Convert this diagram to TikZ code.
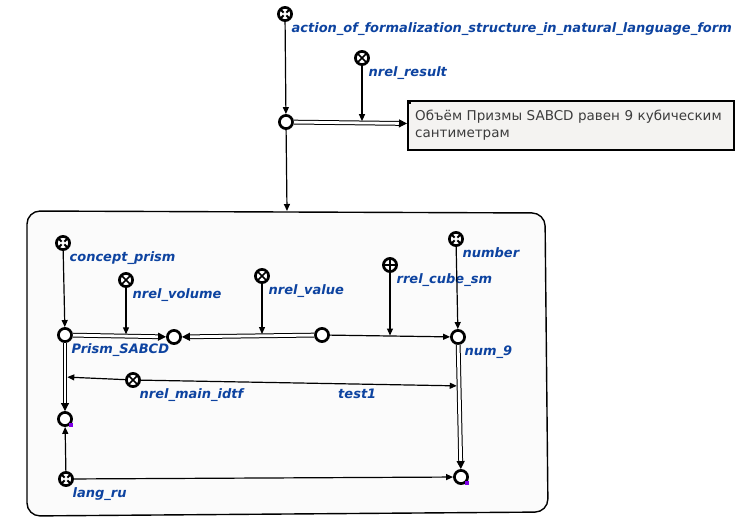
\documentclass[tikz,border=0pt]{standalone}
\usepackage{fontspec}
\setmainfont{DejaVu Sans}
\usetikzlibrary{arrows.meta}

\definecolor{lblblue}{RGB}{13,67,160}
\definecolor{boxgray}{RGB}{244,243,241}
\definecolor{txtgray}{RGB}{60,60,60}
\definecolor{contourgray}{RGB}{251,251,251}
\definecolor{linkviolet}{RGB}{125,0,230}

\tikzset{
  scnode/.style={circle, draw, line width=2.7pt, fill=white, minimum size=13.2pt, inner sep=0pt},
  norole/.style={scnode, path picture={
      \draw[line width=1.6pt] (path picture bounding box.north west) -- (path picture bounding box.south east)
        (path picture bounding box.north east) -- (path picture bounding box.south west);}},
  rolenode/.style={scnode, path picture={
      \draw[line width=1.6pt] (path picture bounding box.north) -- (path picture bounding box.south)
        (path picture bounding box.east) -- (path picture bounding box.west);}},
  classnode/.style={scnode, path picture={
      \draw[line width=1.8pt] (path picture bounding box.north west) -- (path picture bounding box.south east)
        (path picture bounding box.north east) -- (path picture bounding box.south west);
      \fill (path picture bounding box.center) circle (2pt);}},
  lbl/.style={text=lblblue, inner sep=0pt, font=\fontsize{13}{15}\selectfont\bfseries\itshape},
  sclabel/.style={lbl, xshift=0.8pt, yshift=-2.6pt},
  accarc/.style={line width=1.2pt, -{Triangle[length=7pt, width=6pt]}},
  commonarc/.style={double=white, double distance=2.8pt, line width=1pt, -{Triangle[length=8pt, width=8pt]}},
  textbox/.style={draw, line width=2.4pt, fill=boxgray, text=txtgray, text width=312pt, align=left,
    inner xsep=7pt, minimum height=48.6pt, font=\fontsize{13.5}{17}\selectfont},
  contour/.style={draw, line width=1.4pt, fill=contourgray, rounded corners=13pt},
  linkmark/.style={fill=linkviolet}
}

\begin{document}
\begin{tikzpicture}[x=1pt, y=-1pt]
\useasboundingbox (0,0) rectangle (742,532);

% contour of the structure
\draw[contour] (27,211) -- (545,213) -- (548,512) -- (27,516) -- cycle;
\coordinate (ctop) at (287,211);

% action and its result
\node[classnode, label={[sclabel]south east:action\_of\_formalization\_structure\_in\_natural\_language\_form}] (action) at (285,14) {};
\node[norole, label={[sclabel]south east:nrel\_result}] (nresult) at (362,58) {};
\node[scnode] (pair) at (286,122) {};
\node[textbox, anchor=north west] (result) at (407,100) {Объём Призмы SABCD равен 9 кубическим\\сантиметрам};
\fill (result.north west) rectangle +(4,4);

\draw[accarc] (action) -- (pair);
\draw[commonarc] (pair) -- coordinate[pos=0.62] (mres) (result);
\draw[accarc, shorten >=1.8pt] (nresult) -- (nresult |- mres);
\draw[accarc] (pair) -- (ctop);

% nodes inside the contour
\node[classnode, label={[sclabel]south east:concept\_prism}] (cprism) at (63,243) {};
\node[scnode, label={[sclabel]south east:Prism\_SABCD}] (prism) at (65,335) {};
\node[norole, label={[sclabel]south east:nrel\_volume}] (nvolume) at (126,280) {};
\node[scnode] (volume) at (174,337) {};
\node[norole, label={[sclabel]south east:nrel\_value}] (nvalue) at (262,276) {};
\node[scnode] (value) at (322,335) {};
\node[rolenode, label={[sclabel]south east:rrel\_cube\_sm}] (rcube) at (390,265) {};
\node[classnode, label={[sclabel]south east:number}] (number) at (456,239) {};
\node[scnode, label={[sclabel]south east:num\_9}] (num) at (458,337) {};
\node[norole, label={[sclabel]south east:nrel\_main\_idtf}] (nidtf) at (133,380) {};
\node[scnode] (lnkru) at (65,419) {};
\node[scnode] (lnknum) at (461,477) {};
\node[classnode, label={[sclabel]south east:lang\_ru}] (langru) at (66,479) {};
\fill[linkmark] ([shift={(4,4.2)}]lnkru.center) rectangle +(4,4);
\fill[linkmark] ([shift={(4,4.2)}]lnknum.center) rectangle +(4,4);

% arcs
\draw[accarc] (cprism) -- (prism);
\draw[commonarc] (prism) -- coordinate[pos=0.56] (mvol) (volume);
\draw[accarc, shorten >=1.8pt] (nvolume) -- (nvolume |- mvol);
\draw[commonarc] (value) -- coordinate[pos=0.405] (mval) (volume);
\draw[accarc, shorten >=1.8pt] (nvalue) -- (nvalue |- mval);
\draw[accarc] (value) -- coordinate[pos=0.5] (mcube) (num);
\draw[accarc, shorten >=0.5pt] (rcube) -- (rcube |- mcube);
\draw[accarc] (number) -- (num);
\draw[commonarc] (prism) -- coordinate[pos=0.5] (midl) (lnkru);
\draw[commonarc] (num) -- coordinate[pos=0.33] (midr) (lnknum);
\draw[accarc, shorten >=2.3pt] (nidtf) -- (midl);
\draw[accarc, shorten >=2.3pt] (nidtf) -- node[lbl, pos=0.68, below=4pt] (test) {test1} (midr);
\draw[accarc] (langru) -- (lnkru);
\draw[accarc] (langru) -- (lnknum);

\end{tikzpicture}
\end{document}
